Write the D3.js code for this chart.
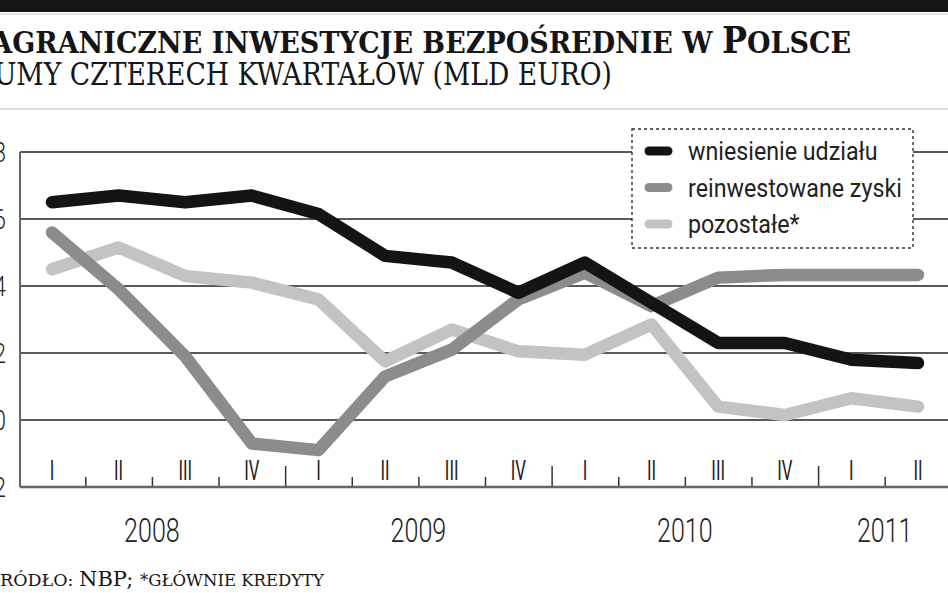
<!DOCTYPE html>
<html>
<head>
<meta charset="utf-8">
<script src="https://cdn.jsdelivr.net/npm/d3@7"></script>
<style>
  body { margin: 0; background: #fff; }
  svg { display: block; }
  .cond { font-family: Roboto, "DejaVu Sans", sans-serif; }
  .slab { font-family: "DejaVu Serif", "Liberation Serif", serif; }
</style>
</head>
<body>
<div id="chart"></div>
<script>
// Data (mld euro, sums of four quarters)
const quarters = ["I", "II", "III", "IV", "I", "II", "III", "IV", "I", "II", "III", "IV", "I", "II"];
const years = ["2008", "2009", "2010", "2011"];
const yearCenters = [1.5, 5.5, 9.5, 12.5];
const yearBreaks = [3.5, 7.5, 11.5];
const yTicks = [-2, 0, 2, 4, 6, 8];

const wniesienie = [6.5, 6.7, 6.5, 6.7, 6.15, 4.9, 4.7, 3.8, 4.7, 3.5, 2.3, 2.3, 1.8, 1.7];
const reinwestowane = [5.6, 3.9, 1.9, -0.7, -0.9, 1.3, 2.1, 3.6, 4.4, 3.4, 4.25, 4.33, 4.33, 4.33];
const pozostale = [4.5, 5.15, 4.3, 4.1, 3.6, 1.75, 2.7, 2.05, 1.95, 2.85, 0.4, 0.15, 0.65, 0.4];

const seriesNames = ["wniesienie udziału", "reinwestowane zyski", "pozostałe*"];
const seriesColors = ["#141414", "#8c8c8c", "#c3c3c3"];

const width = 948;
const height = 593;

const svg = d3.select("#chart")
  .append("svg")
  .attr("width", width)
  .attr("height", height);

// Header band and rules
svg.append("rect").attr("x", 0).attr("y", 0).attr("width", width).attr("height", 12).attr("fill", "#151515");
svg.append("line").attr("x1", 0).attr("x2", width).attr("y1", 14).attr("y2", 14).attr("stroke", "#c8c8c8");
svg.append("line").attr("x1", 0).attr("x2", width).attr("y1", 109).attr("y2", 109).attr("stroke", "#bdbdbd");

// Titles (left part is cut off in the original)
const title = svg.append("text")
  .attr("class", "slab")
  .attr("transform", "translate(851, 53) scale(0.9, 1)")
  .attr("text-anchor", "end")
  .attr("font-weight", "bold")
  .attr("fill", "#151515");
title.append("tspan").attr("font-size", 37).text("Z");
title.append("tspan").attr("font-size", 30).text("AGRANICZNE INWESTYCJE BEZPOŚREDNIE W ");
title.append("tspan").attr("font-size", 37).text("P");
title.append("tspan").attr("font-size", 30).text("OLSCE");

svg.append("text")
  .attr("class", "slab")
  .attr("transform", "translate(612, 85) scale(0.86, 1)")
  .attr("text-anchor", "end")
  .attr("font-size", 31)
  .attr("fill", "#151515")
  .text("SUMY CZTERECH KWARTAŁÓW (MLD EURO)");

// Scales
const x = d3.scaleLinear().domain([0, quarters.length - 1]).range([52, 918]);
const y = d3.scaleLinear().domain([-2, 8]).range([487, 152]);
const plotLeft = 20;

const g = svg.append("g");

// Horizontal grid
g.selectAll(".grid")
  .data(yTicks.filter((d) => d > -2))
  .join("line")
  .attr("x1", plotLeft).attr("x2", width)
  .attr("y1", (d) => y(d)).attr("y2", (d) => y(d))
  .attr("stroke", "#222").attr("stroke-width", 1.3);

// Left frame
g.append("line")
  .attr("x1", plotLeft).attr("x2", plotLeft)
  .attr("y1", y(8)).attr("y2", y(-2))
  .attr("stroke", "#666").attr("stroke-width", 2);

// Y labels
svg.append("g")
  .attr("class", "cond")
  .selectAll("text")
  .data(yTicks)
  .join("text")
  .attr("transform", (d) => `translate(6, ${y(d) + 10}) scale(0.8, 1)`)
  .attr("text-anchor", "end")
  .attr("font-size", 28)
  .attr("font-weight", 300)
  .attr("fill", "#222")
  .text((d) => d);

// Bottom axis with quarter ticks
const xAxis = d3.axisBottom(x)
  .tickValues(d3.range(0.5, quarters.length - 0.5, 1))
  .tickSize(10)
  .tickSizeOuter(0)
  .tickFormat("");

const axisG = svg.append("g")
  .attr("transform", `translate(0, ${y(-2)})`)
  .call(xAxis);
axisG.select(".domain").remove();
axisG.selectAll(".tick line")
  .attr("stroke", "#333")
  .attr("stroke-width", 1.5)
  .attr("y2", (d) => (yearBreaks.includes(d) ? -21 : -10));
axisG.append("line")
  .attr("x1", plotLeft).attr("x2", width)
  .attr("stroke", "#666").attr("stroke-width", 2.5);

// Quarter labels
svg.append("g")
  .attr("class", "cond")
  .selectAll("text")
  .data(quarters)
  .join("text")
  .attr("transform", (d, i) => `translate(${x(i)}, 480) scale(0.62, 1)`)
  .attr("text-anchor", "middle")
  .attr("font-size", 27)
  .attr("fill", "#222")
  .text((d) => d);

// Year labels
svg.append("g")
  .attr("class", "cond")
  .selectAll("text")
  .data(years)
  .join("text")
  .attr("transform", (d, i) => `translate(${x(yearCenters[i])}, 542) scale(0.76, 1)`)
  .attr("text-anchor", "middle")
  .attr("font-size", 33)
  .attr("font-weight", 300)
  .attr("fill", "#222")
  .text((d) => d);

// Legend box (white, covers grid)
const legend = svg.append("g");
legend.append("rect")
  .attr("x", 632).attr("y", 129)
  .attr("width", 281).attr("height", 119)
  .attr("fill", "#fff")
  .attr("stroke", "#333")
  .attr("stroke-width", 1.4)
  .attr("stroke-dasharray", "3,3");

// Lines
const line = d3.line()
  .x((d, i) => x(i))
  .y((d) => y(d));

const allSeries = [wniesienie, reinwestowane, pozostale];
// draw light first so black stays on top
[2, 1, 0].forEach((k) => {
  svg.append("path")
    .datum(allSeries[k])
    .attr("fill", "none")
    .attr("stroke", seriesColors[k])
    .attr("stroke-width", 12.5)
    .attr("stroke-linejoin", "round")
    .attr("stroke-linecap", "round")
    .attr("d", line);
});

// Legend entries
const items = legend.selectAll(".item")
  .data(seriesNames)
  .join("g")
  .attr("transform", (d, i) => `translate(0, ${151 + i * 36.5})`);
items.append("line")
  .attr("x1", 649).attr("x2", 668)
  .attr("stroke", (d, i) => seriesColors[i])
  .attr("stroke-width", 9)
  .attr("stroke-linecap", "round");
items.append("text")
  .attr("class", "cond")
  .attr("transform", "translate(688, 9) scale(0.93, 1)")
  .attr("font-size", 25)
  .attr("fill", "#222")
  .text((d) => d);

// Footer
const foot = svg.append("text")
  .attr("class", "slab")
  .attr("x", 324).attr("y", 586)
  .attr("text-anchor", "end")
  .attr("fill", "#151515");
foot.append("tspan").attr("font-size", 17.5).text("ŹRÓDŁO: ");
foot.append("tspan").attr("font-size", 21).text("NBP; ");
foot.append("tspan").attr("font-size", 16.5).text("*GŁÓWNIE KREDYTY");
</script>
</body>
</html>
